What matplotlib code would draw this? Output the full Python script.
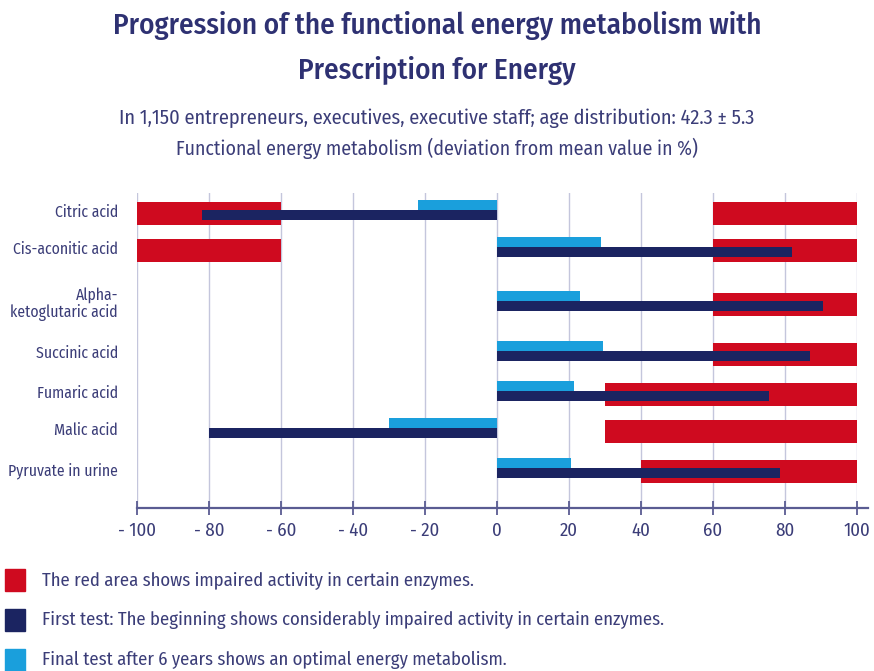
import matplotlib
matplotlib.use('Agg')
import matplotlib.pyplot as plt

# Chart data (deviation from mean value in %)
categories = ['Citric acid', 'Cis-aconitic acid', 'Alpha-\nketoglutaric acid',
              'Succinic acid', 'Fumaric acid', 'Malic acid', 'Pyruvate in urine']
first_test = [-82, 82, 90.5, 87, 75.5, -80, 78.5]
final_test = [-22, 29, 23, 29.5, 21.5, -30, 20.5]
red_neg = [(-100, -60), (-100, -60), None, None, None, None, None]
red_pos = [(60, 100), (60, 100), (60, 100), (60, 100), (30, 100), (30, 100), (40, 100)]
x_ticks = [-100, -80, -60, -40, -20, 0, 20, 40, 60, 80, 100]
x_labels = ['- 100', '- 80', '- 60', '- 40', '- 20', '0', '20', '40', '60', '80', '100']

legend_texts = ['The red area shows impaired activity in certain enzymes.',
                'First test: The beginning shows considerably impaired activity in certain enzymes.',
                'Final test after 6 years shows an optimal energy metabolism.']

# colours
RED = '#cf0a1f'
NAVY = '#1b2461'
LIGHT = '#1a9fdc'
TEXT = '#3b3d78'
GRID = '#c4c6dc'
AXIS = '#5a5c92'

plt.rcParams['font.family'] = ['Fira Sans Condensed', 'DejaVu Sans']

W, H = 874, 671
fig = plt.figure(figsize=(W / 100, H / 100), dpi=100)

# axes placed in pixel units of the figure
ax_left, ax_right, ax_top, ax_bottom = 137, 857, 193, 508
ax = fig.add_axes([ax_left / W, 1 - ax_bottom / H, (ax_right - ax_left) / W, (ax_bottom - ax_top) / H])
ax.set_xlim(-100, 100)
ax.set_ylim(ax_bottom, ax_top)  # y in pixel rows, top to bottom

# row layout (pixel rows)
row_y = [211, 248, 302, 352, 392, 429, 469]

for i, y in enumerate(row_y):
    for seg in (red_neg[i], red_pos[i]):
        if seg is not None:
            ax.barh(y + 2, seg[1] - seg[0], left=seg[0], height=23, color=RED, zorder=2)
    ax.barh(y + 4, first_test[i], left=0, height=10, color=NAVY, zorder=3)
    ax.barh(y - 6, final_test[i], left=0, height=10, color=LIGHT, zorder=3)

for t in x_ticks:
    ax.axvline(t, color=GRID, linewidth=1, zorder=1)

for s in ['top', 'right', 'left', 'bottom']:
    ax.spines[s].set_visible(False)
# axis line runs a little past the last tick
ax.plot([-100, 103], [ax_bottom - 0.5, ax_bottom - 0.5], color=AXIS, linewidth=1.6,
        clip_on=False, zorder=4)
ax.set_xticks(x_ticks)
ax.set_xticklabels(x_labels, fontsize=13.5, color=TEXT)
ax.tick_params(axis='x', direction='inout', length=9.5, width=1.3, color=AXIS, pad=5)
ax.set_yticks(row_y)
ax.set_yticklabels(categories, fontsize=11.3, color=TEXT, linespacing=1.05)
ax.tick_params(axis='y', length=0, pad=13.7)

# titles
fig.text(0.5, 1 - 25 / H, 'Progression of the functional energy metabolism with',
         ha='center', va='center', fontsize=21, color='#2e3172', fontweight='medium')
fig.text(0.5, 1 - 70 / H, 'Prescription for Energy',
         ha='center', va='center', fontsize=21, color='#2e3172', fontweight='medium')
fig.text(0.5, 1 - 118 / H, 'In 1,150 entrepreneurs, executives, executive staff; age distribution: 42.3 \u00b1 5.3',
         ha='center', va='center', fontsize=14.6, color=TEXT)
fig.text(0.5, 1 - 148 / H, 'Functional energy metabolism (deviation from mean value in %)',
         ha='center', va='center', fontsize=14.3, color=TEXT)

# legend
for c, txt, yc in zip([RED, NAVY, LIGHT], legend_texts, [580, 620, 660]):
    fig.patches.append(plt.Rectangle((5 / W, 1 - (yc + 11) / H), 20 / W, 22 / H,
                                     transform=fig.transFigure, color=c))
    fig.text(42 / W, 1 - yc / H, txt, ha='left', va='center', fontsize=13.4, color=TEXT)

fig.savefig('out.png', dpi=100)
